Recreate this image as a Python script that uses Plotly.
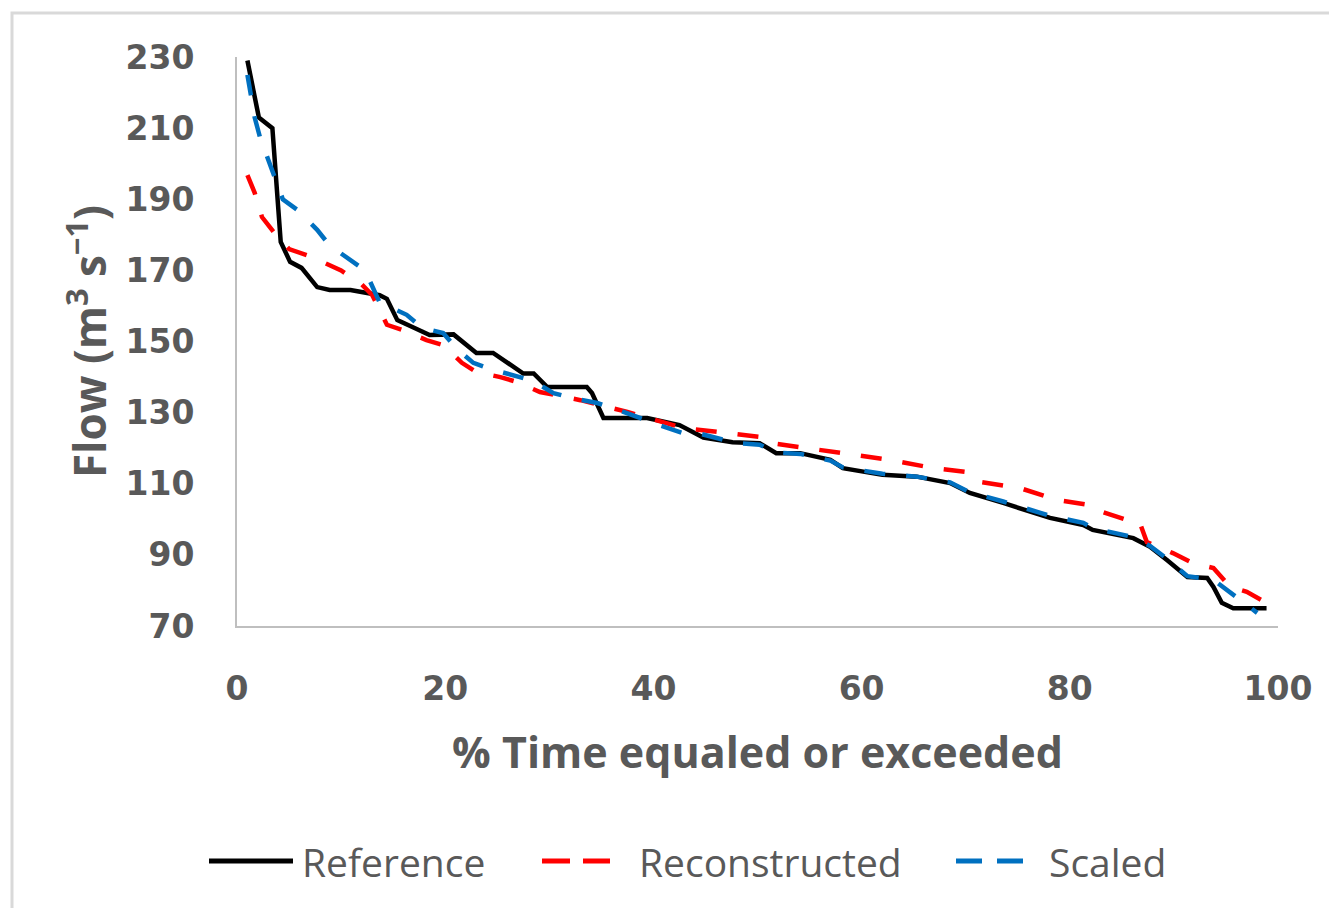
import plotly.graph_objects as go

# ---- data ----
ref_x = [1, 2.1, 3.4, 4.2, 5.1, 6.2, 7.7, 8.9, 10.9, 12.8, 13.7, 14.4, 15.4, 16.9, 18.5, 20.8,
         23, 24.6, 27.5, 28.5, 29.8, 33.6, 34.1, 35.2, 39.4, 42.5, 44.8, 47.6, 50.2, 51.8, 54.1,
         57, 58.2, 62, 65.3, 68.5, 70.4, 73.6, 75.9, 78.1, 81.3, 82.2, 86.1, 87.7, 89.3, 91.3,
         93.2, 93.8, 94.6, 95.7, 98.9]
ref_y = [229, 213, 210, 178, 172.4, 170.7, 165.3, 164.5, 164.5, 163.6, 163, 162, 156, 154, 151.8, 152,
         146.8, 146.8, 141, 141, 137.2, 137.2, 135.5, 128.5, 128.5, 126.5, 123, 121.7, 121.4, 118.6, 118.6,
         116.7, 114.4, 112.5, 112, 110.2, 107.4, 104.6, 102.6, 100.4, 98.4, 97, 94.7, 92.3, 88.6, 83.8,
         83.5, 81, 76.5, 75, 75]

rec_x = [1, 1.7, 2.4, 3.6, 5, 7, 10, 12, 13, 14.4, 16.1, 18.2, 19.8, 21.6, 23, 25.3, 26.9, 29.1,
         33, 37.5, 41.9, 42.8, 46.1, 50.2, 51.2, 54.1, 57.9, 62.7, 66.9, 70.1, 71.4, 73.6, 75.2,
         78.8, 82, 83.2, 85.5, 86.7, 87.4, 89.9, 91.8, 93.8, 95.4, 97, 98.9]
rec_y = [196.8, 191.8, 185, 180.5, 176, 174, 170, 166, 163, 154.7, 153, 150.4, 149, 144, 141.4, 140, 138.6, 135.8,
         133.5, 130.2, 126.5, 125.7, 124.6, 123.2, 121.5, 120.3, 118.9, 116.7, 114.4, 113.3, 110.5, 109.6, 108.8,
         105.4, 104, 102, 99.8, 99.2, 93.6, 90.5, 87.7, 86.3, 81, 79.6, 76.5]

sc_x = [1, 1.4, 1.7, 2.2, 3, 3.6, 4.4, 5.8, 7.7, 8.9, 12.3, 13.7, 16.3, 17.8, 19.8, 21.1, 22.7, 24.3,
        26.9, 28.4, 30.4, 32.3, 34.6, 36.1, 38.7, 40, 42.8, 44.2, 48, 50.2, 51.8, 54.1, 57, 58.2, 62,
        65.3, 68.5, 70.4, 73.6, 75.9, 78.1, 81.3, 82.2, 86.1, 87.7, 89.3, 91.3, 93.8, 94.7, 96.6, 98]
sc_y = [225, 219, 213, 207.5, 201, 196, 190, 187, 181.4, 177, 170, 161, 157.5, 153.8, 152.4, 148, 144, 142.3,
        140, 139, 135.5, 134, 132.7, 131.3, 128.5, 127, 124.3, 124.3, 121.4, 121, 118.8, 118.4, 116.5, 114.6, 112.8,
        112, 110.4, 107.6, 105, 103, 101, 99, 97.5, 95, 92.5, 89, 84, 83, 81, 76.5, 73.7]

series_names = ["Reference", "Reconstructed", "Scaled"]
series_colors = ["#000000", "#ff0000", "#0070c0"]
series_dash = ["solid", "21px,21px", "21px,21px"]

y_ticks = [70, 90, 110, 130, 150, 170, 190, 210, 230]
x_ticks = [0, 20, 40, 60, 80, 100]

OFF = 8  # default page body margin in the written html
W, H = 1337 - OFF, 908 - OFF
L, T = 237 - OFF, 57 - OFF
R = W - (1278 - OFF)
B = H - (626 - OFF)
pw, ph = W - L - R, H - T - B

fig = go.Figure()
for xs, ys, nm, col, dsh in zip([ref_x, rec_x, sc_x], [ref_y, rec_y, sc_y],
                                series_names, series_colors, series_dash):
    fig.add_trace(go.Scatter(x=xs, y=ys, mode="lines", name=nm, showlegend=False,
                             line=dict(color=col, width=4.5, dash=dsh)))

gray = "#595959"
fig.update_layout(
    width=W, height=H,
    margin=dict(l=L, r=R, t=T, b=B),
    paper_bgcolor="white", plot_bgcolor="white",
    showlegend=False,
    xaxis=dict(range=[0, 100], tickvals=x_ticks, showgrid=False, zeroline=False,
               showline=True, linecolor="#bfbfbf", linewidth=2, ticks="", automargin=False,
               tickfont=dict(family="DejaVu Sans", size=33, color=gray, weight="bold"),
               ticklabelstandoff=32,
               title=dict(text="% Time equaled or exceeded", standoff=31,
                          font=dict(family="Open Sans", size=43, color=gray, weight="bold"))),
    yaxis=dict(range=[70, 230], tickvals=y_ticks, showgrid=False, zeroline=False,
               showline=True, linecolor="#bfbfbf", linewidth=2, ticks="", automargin=False,
               tickfont=dict(family="DejaVu Sans", size=33, color=gray, weight="bold"),
               ticklabelstandoff=34,
               title=dict(text="Flow (m<sup>3</sup> s<sup>−1</sup>)", standoff=5,
                          font=dict(family="Open Sans", size=44, color=gray, weight="bold"))),
)

def px(xp):
    return (xp - OFF - L) / pw

def py(yp):
    return (H + OFF - B - yp) / ph

# outer chart border (light gray frame)
fig.add_shape(type="rect", xref="paper", yref="paper",
              x0=px(12), x1=px(1350), y0=py(920), y1=py(13),
              line=dict(color="#d9d9d9", width=3), fillcolor="rgba(0,0,0,0)", layer="below")

# legend (drawn below the plot, Excel style with long keys)
leg_y = 861
key_x = [(209, 293), (542, 610), (956, 1023)]
text_x = [300, 637, 1047]
key_dash = ["solid", "28px,13px", "26px,15px"]
for (k0, k1), tx, nm, col, dsh in zip(key_x, text_x, series_names, series_colors, key_dash):
    fig.add_shape(type="line", xref="paper", yref="paper",
                  x0=px(k0), x1=px(k1), y0=py(leg_y), y1=py(leg_y),
                  line=dict(color=col, width=5, dash=dsh))
    fig.add_annotation(xref="paper", yref="paper", x=px(tx), y=py(leg_y),
                       xanchor="left", yanchor="middle", showarrow=False, text=nm,
                       font=dict(family="Open Sans", size=39, color=gray))

fig.write_html("out.html")
